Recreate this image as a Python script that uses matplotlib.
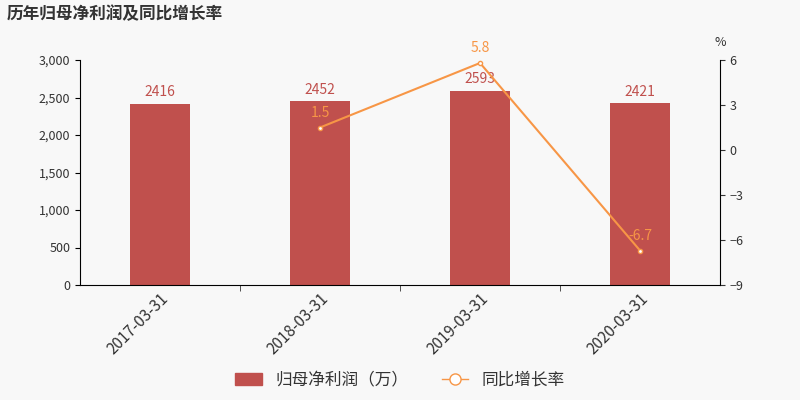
import matplotlib.pyplot as plt
import numpy as np

plt.rcParams['font.family'] = ['Noto Sans CJK SC', 'DejaVu Sans']

dates = ['2017-03-31', '2018-03-31', '2019-03-31', '2020-03-31']
profit = [2416, 2452, 2593, 2421]
growth = [None, 1.5, 5.8, -6.7]

bar_color = '#c0504d'
line_color = '#f79646'
bg = '#f8f8f8'

fig = plt.figure(figsize=(8, 4), dpi=100, facecolor=bg)
ax = fig.add_axes([0.1, 0.2875, 0.8, 0.5625], facecolor=bg)
x = np.arange(len(dates))
ax.bar(x, profit, width=0.38, color=bar_color)
for xi, v in zip(x, profit):
    ax.text(xi, v + 60, str(v), ha='center', va='bottom', color=bar_color, fontsize=10)
ax.set_ylim(0, 3000)
ax.set_yticks(range(0, 3001, 500))
ax.set_yticklabels([f'{v:,}' for v in range(0, 3001, 500)], fontsize=9, color='#333333')
ax.set_xlim(-0.5, 3.5)
ax.set_xticks(x)
ax.set_xticklabels(dates, rotation=45, ha='right', rotation_mode='anchor', fontsize=11, color='#333333')
ax.set_xticks([0.5, 1.5, 2.5], minor=True)
ax.tick_params(axis='x', which='major', length=0)
ax.tick_params(axis='x', which='minor', length=4, color='#333333')
for s in ['top', 'right']:
    ax.spines[s].set_visible(False)

ax2 = ax.twinx()
gx = [xi for xi, g in zip(x, growth) if g is not None]
gy = [g for g in growth if g is not None]
ax2.plot(gx, gy, color=line_color, lw=1.5, marker='o', markersize=3,
         markerfacecolor='white', markeredgecolor=line_color)
for xi, g in zip(gx, gy):
    ax2.text(xi, g + 0.5, f'{g}', ha='center', va='bottom', color=line_color, fontsize=10)
ax2.set_ylim(-9, 6)
ax2.set_yticks(range(-9, 7, 3))
ax2.tick_params(axis='y', labelsize=9, colors='#333333')
for s in ['top', 'left', 'bottom']:
    ax2.spines[s].set_visible(False)
ax2.text(1.0, 1.06, '%', transform=ax2.transAxes, ha='center', fontsize=9, color='#333333')

fig.text(0.008, 0.965, '历年归母净利润及同比增长率', fontsize=12, fontweight='bold', color='#333333', va='center')

from matplotlib.patches import FancyBboxPatch
from matplotlib.lines import Line2D
h1 = FancyBboxPatch((0, 0), 1, 1, boxstyle='round,pad=0.1', color=bar_color)
h2 = Line2D([], [], color=line_color, marker='o', markersize=8, markerfacecolor='white', lw=1)
fig.legend([h1, h2], ['归母净利润（万）', '同比增长率'], loc='lower center', ncol=2,
           frameon=False, fontsize=12, bbox_to_anchor=(0.5, -0.01), handlelength=1.6,
           labelcolor='#333333')
fig.savefig('out.png', dpi=100, facecolor=bg)
